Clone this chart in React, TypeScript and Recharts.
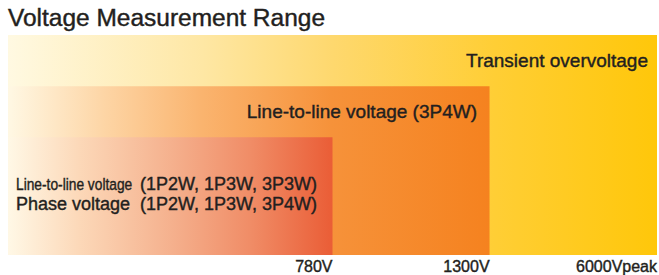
import { ComposedChart, Area, XAxis, YAxis } from 'recharts';

// voltage breakpoints along the (schematic) axis
const VOLTAGE_STOPS = [0, 780, 1300, 6000];
const TICK_VALUES = [780, 1300, 6000];
const TICK_LABELS = ['780V', '1300V', '6000Vpeak'];

// measurement tiers, innermost first
const TIER_KEYS = ['phase', 'lineToLine', 'transient'];
const TIER_MAX = [780, 1300, 6000];
const TIER_LEVEL = [1, 2, 3];

// the axis is not to scale: share of the width given to each breakpoint
const SEGMENT_SHARE = [0, 0.5, 0.742, 1];

const FONT = '"Liberation Sans", Arial, Helvetica, sans-serif';
const INK = '#231F20';
// thin outline gives the regular face a medium look like the original
const HEFT = 0.4;

const data = VOLTAGE_STOPS.map((v) => {
  const row: Record<string, number | null> = { v };
  TIER_KEYS.forEach((key, i) => {
    row[key] = v <= TIER_MAX[i] ? TIER_LEVEL[i] : null;
  });
  return row;
});

// piecewise linear scale so the axis can break between breakpoints
function brokenScale(domain: number[] = [0, 1], range: number[] = [0, 1]): any {
  const toShare = (value: number) => {
    let i = 1;
    while (i < VOLTAGE_STOPS.length - 1 && value > VOLTAGE_STOPS[i]) i++;
    const lo = VOLTAGE_STOPS[i - 1];
    const hi = VOLTAGE_STOPS[i];
    const t = (value - lo) / (hi - lo);
    return SEGMENT_SHARE[i - 1] + t * (SEGMENT_SHARE[i] - SEGMENT_SHARE[i - 1]);
  };
  const scale: any = (value: number) => range[0] + toShare(value) * (range[1] - range[0]);
  scale.domain = (d?: number[]) => {
    if (d === undefined) return domain;
    domain = [...d];
    return scale;
  };
  scale.range = (r?: number[]) => {
    if (r === undefined) return range;
    range = [...r];
    return scale;
  };
  scale.copy = () => brokenScale(domain, range);
  scale.ticks = () => TICK_VALUES;
  scale.invert = (px: number) => {
    const f = (px - range[0]) / (range[1] - range[0]);
    let i = 1;
    while (i < SEGMENT_SHARE.length - 1 && f > SEGMENT_SHARE[i]) i++;
    const t = (f - SEGMENT_SHARE[i - 1]) / (SEGMENT_SHARE[i] - SEGMENT_SHARE[i - 1]);
    return VOLTAGE_STOPS[i - 1] + t * (VOLTAGE_STOPS[i] - VOLTAGE_STOPS[i - 1]);
  };
  return scale;
}

const VoltageTick = (props: any) => {
  const { x, y, payload } = props;
  const label = TICK_LABELS[TICK_VALUES.indexOf(payload.value)];
  return (
    <text
      x={x}
      y={y}
      dy={17}
      textAnchor="end"
      fill={INK}
      stroke={INK}
      strokeWidth={HEFT}
      fontSize={16}
      fontFamily={FONT}
    >
      {label}
    </text>
  );
};

export default function App() {
  return (
    <div style={{ position: 'absolute', left: 0, top: 0, width: 659, height: 275, overflow: 'hidden', background: '#fff' }}>
      <ComposedChart
        width={659}
        height={275}
        data={data}
        margin={{ top: 35, right: 2, bottom: 0, left: 8 }}
      >
        <defs>
          <linearGradient id="gTransient" x1="0" y1="0" x2="1" y2="0">
            <stop offset="0%" stopColor="#FFF9E2" />
            <stop offset="30%" stopColor="#FEE7A4" />
            <stop offset="50%" stopColor="#FED86E" />
            <stop offset="75%" stopColor="#FFCE35" />
            <stop offset="100%" stopColor="#FFC70A" />
          </linearGradient>
          <linearGradient id="gLineToLine" x1="0" y1="0" x2="1" y2="0">
            <stop offset="0%" stopColor="#FFF8E4" />
            <stop offset="20%" stopColor="#FDD5A5" />
            <stop offset="40%" stopColor="#FAB46F" />
            <stop offset="67%" stopColor="#F6923A" />
            <stop offset="100%" stopColor="#F5821F" />
          </linearGradient>
          <linearGradient id="gPhase" x1="0" y1="0" x2="1" y2="0">
            <stop offset="0%" stopColor="#FFF8E6" />
            <stop offset="22%" stopColor="#FCD8B8" />
            <stop offset="50%" stopColor="#F5B18E" />
            <stop offset="75%" stopColor="#F08C66" />
            <stop offset="100%" stopColor="#EA5D36" />
          </linearGradient>
        </defs>

        <XAxis
          dataKey="v"
          type="number"
          scale={brokenScale()}
          domain={[0, 6000]}
          ticks={TICK_VALUES}
          interval={0}
          axisLine={false}
          tickLine={false}
          tickSize={0}
          tickMargin={0}
          height={20}
          tick={<VoltageTick />}
        />
        <YAxis type="number" domain={[-1.3, 3]} hide />

        <Area
          type="linear"
          dataKey="transient"
          stroke="none"
          fill="url(#gTransient)"
          fillOpacity={1}
          baseValue="dataMin"
          dot={false}
          activeDot={false}
          isAnimationActive={false}
        />
        <Area
          type="linear"
          dataKey="lineToLine"
          stroke="none"
          fill="url(#gLineToLine)"
          fillOpacity={1}
          baseValue="dataMin"
          dot={false}
          activeDot={false}
          isAnimationActive={false}
        />
        <Area
          type="linear"
          dataKey="phase"
          stroke="none"
          fill="url(#gPhase)"
          fillOpacity={1}
          baseValue="dataMin"
          dot={false}
          activeDot={false}
          isAnimationActive={false}
        />
      </ComposedChart>

      {/* title and tier labels, drawn above the areas */}
      <svg
        width={659}
        height={275}
        style={{ position: 'absolute', left: 0, top: 0, pointerEvents: 'none' }}
        fontFamily={FONT}
        fill={INK}
        stroke={INK}
        strokeWidth={HEFT}
      >
        <text x={8} y={26} fontSize={23} textLength={317} lengthAdjust="spacingAndGlyphs">
          Voltage Measurement Range
        </text>
        <text x={648} y={67} textAnchor="end" fontSize={19}>
          Transient overvoltage
        </text>
        <text x={477} y={118} textAnchor="end" fontSize={19}>
          Line-to-line voltage (3P4W)
        </text>
        {/* condensed face in the original */}
        <text transform="translate(16,190) scale(0.81,1)" fontSize={17}>
          Line-to-line voltage
        </text>
        <text x={140} y={190} fontSize={18}>
          (1P2W, 1P3W, 3P3W)
        </text>
        <text x={16} y={210} fontSize={18}>
          Phase voltage
        </text>
        <text x={140} y={210} fontSize={18}>
          (1P2W, 1P3W, 3P4W)
        </text>
      </svg>
    </div>
  );
}
